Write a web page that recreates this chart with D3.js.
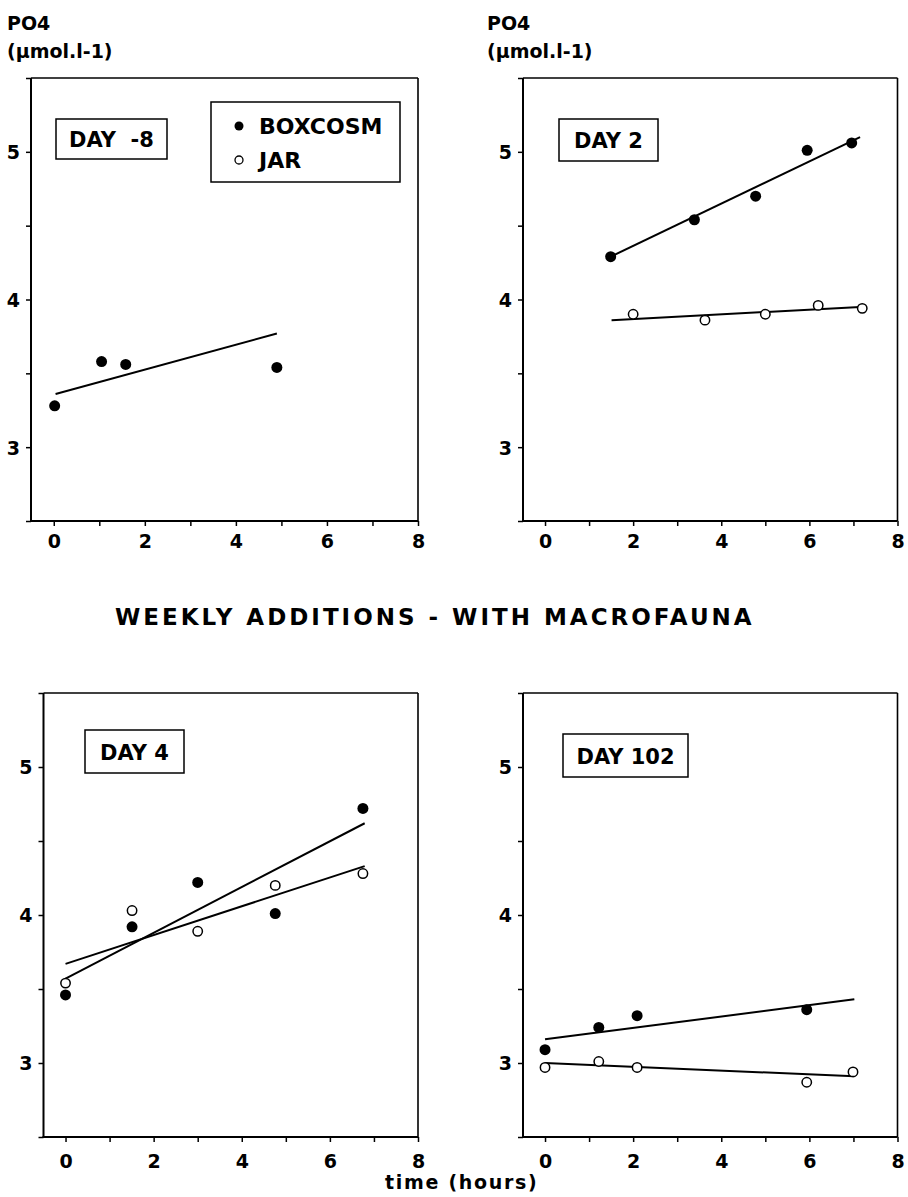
<!DOCTYPE html>
<html>
<head>
<meta charset="utf-8">
<script src="https://cdn.jsdelivr.net/npm/d3@7"></script>
<style>
  html, body { margin: 0; padding: 0; background: #fff; }
  svg text { font-family: "DejaVu Sans", "Liberation Sans", Arial, sans-serif; font-weight: bold; fill: #000; }
</style>
</head>
<body>
<svg id="chart" width="908" height="1197"></svg>
<script>
// Phosphate (PO4, µmol/l) over incubation time (hours), boxcosm vs jar
const dayLabels = ["DAY  -8", "DAY 2", "DAY 4", "DAY 102"];

const boxTime = [[0.02, 1.05, 1.58, 4.90], [1.49, 3.39, 4.78, 5.95, 6.96], [0, 1.51, 3.0, 4.76, 6.75], [0, 1.22, 2.09, 5.94]];
const boxPO4  = [[3.28, 3.58, 3.56, 3.54], [4.29, 4.54, 4.70, 5.01, 5.06], [3.46, 3.92, 4.22, 4.01, 4.72], [3.09, 3.24, 3.32, 3.36]];
const jarTime = [[], [2.0, 3.63, 5.0, 6.2, 7.2], [0, 1.51, 3.0, 4.76, 6.75], [0, 1.22, 2.09, 5.94, 6.99]];
const jarPO4  = [[], [3.90, 3.86, 3.90, 3.96, 3.94], [3.54, 4.03, 3.89, 4.20, 4.28], [2.97, 3.01, 2.97, 2.87, 2.94]];

// fitted lines: [t0, v0, t1, v1]
const boxFit = [[0.04, 3.36, 4.90, 3.77], [1.49, 4.29, 7.15, 5.10], [0, 3.57, 6.79, 4.62], [0, 3.16, 7.02, 3.43]];
const jarFit = [null, [1.51, 3.86, 7.15, 3.95], [0, 3.67, 6.79, 4.33], [0, 3.00, 7.02, 2.91]];

const xTickValues = [0, 1, 2, 3, 4, 5, 6, 7, 8];
const xTickLabels = [0, 2, 4, 6, 8];
const yTickValues = [2.5, 3, 3.5, 4, 4.5, 5, 5.5];
const yTickLabels = [3, 4, 5];

const seriesNames = ["BOXCOSM", "JAR"];
const titleText = "WEEKLY ADDITIONS - WITH MACROFAUNA";
const yLabelLines = ["PO4", "(µmol.l-1)"];
const xLabelText = "time (hours)";

// panel frames in page pixels
const frames = [
  { x0: 31,   x1: 418,   y0: 78,  y1: 521,  lab: 27 },
  { x0: 523,  x1: 897.5, y0: 78,  y1: 521,  lab: 27 },
  { x0: 43.5, x1: 418,   y0: 693, y1: 1137, lab: 31 },
  { x0: 523,  x1: 897.5, y0: 693, y1: 1137, lab: 31 }
];
const dayBoxes = [
  { x: 56,  y: 119, w: 111, h: 40 },
  { x: 559, y: 119, w: 99,  h: 42 },
  { x: 85,  y: 730, w: 99,  h: 43 },
  { x: 563, y: 734, w: 125, h: 43 }
];

const svg = d3.select("#chart");

frames.forEach((f, i) => {
  const g = svg.append("g");
  const x = d3.scaleLinear().domain([-0.5, 8]).range([f.x0, f.x1]);
  const y = d3.scaleLinear().domain([2.5, 5.5]).range([f.y1, f.y0]);

  // axes with ticks
  const xAxis = d3.axisBottom(x).tickValues(xTickValues).tickSize(5).tickSizeOuter(0)
    .tickFormat(d => xTickLabels.includes(d) ? d : "");
  const yAxis = d3.axisLeft(y).tickValues(yTickValues).tickSize(5).tickSizeOuter(0)
    .tickFormat(d => yTickLabels.includes(d) ? d : "");

  const gx = g.append("g").attr("transform", `translate(0,${f.y1})`).call(xAxis);
  const gy = g.append("g").attr("transform", `translate(${f.x0},0)`).call(yAxis);
  [gx, gy].forEach(a => {
    a.attr("font-size", null).attr("font-family", null);
    a.select(".domain").remove();
    a.selectAll(".tick line").attr("stroke", "#000").attr("stroke-width", 1.5);
    a.selectAll(".tick text").style("font-size", "19px").attr("fill", "#000");
  });
  gx.selectAll(".tick text").attr("dy", null).attr("y", f.lab);
  gy.selectAll(".tick text").attr("x", -11).attr("dy", "0.36em");

  // frame: heavier left/bottom, lighter top/right
  g.append("line").attr("x1", f.x0).attr("x2", f.x0).attr("y1", f.y0).attr("y2", f.y1)
    .attr("stroke", "#000").attr("stroke-width", 2);
  g.append("line").attr("x1", f.x0 - 1).attr("x2", f.x1).attr("y1", f.y1).attr("y2", f.y1)
    .attr("stroke", "#000").attr("stroke-width", 2);
  g.append("line").attr("x1", f.x0).attr("x2", f.x1).attr("y1", f.y0).attr("y2", f.y0)
    .attr("stroke", "#000").attr("stroke-width", 1.6);
  g.append("line").attr("x1", f.x1).attr("x2", f.x1).attr("y1", f.y0).attr("y2", f.y1)
    .attr("stroke", "#000").attr("stroke-width", 1.6);

  // day label box
  const b = dayBoxes[i];
  g.append("rect").attr("x", b.x).attr("y", b.y).attr("width", b.w).attr("height", b.h)
    .attr("fill", "#fff").attr("stroke", "#000").attr("stroke-width", 1.5);
  g.append("text").attr("x", b.x + b.w / 2).attr("y", b.y + b.h / 2 + 8)
    .attr("text-anchor", "middle").style("font-size", "21px").style("white-space", "pre")
    .text(dayLabels[i]);

  // fitted lines
  [boxFit[i], jarFit[i]].forEach(l => {
    if (!l) return;
    g.append("line")
      .attr("x1", x(l[0])).attr("y1", y(l[1]))
      .attr("x2", x(l[2])).attr("y2", y(l[3]))
      .attr("stroke", "#000").attr("stroke-width", 2);
  });

  // jar points (open)
  g.selectAll(".jar").data(d3.zip(jarTime[i], jarPO4[i])).join("circle")
    .attr("cx", d => x(d[0])).attr("cy", d => y(d[1])).attr("r", 4.7)
    .attr("fill", "#fff").attr("stroke", "#000").attr("stroke-width", 1.5);
  // boxcosm points (filled)
  g.selectAll(".box").data(d3.zip(boxTime[i], boxPO4[i])).join("circle")
    .attr("cx", d => x(d[0])).attr("cy", d => y(d[1])).attr("r", 5.5)
    .attr("fill", "#000");
});

// legend (first panel)
const lg = svg.append("g");
lg.append("rect").attr("x", 211).attr("y", 102).attr("width", 189).attr("height", 80)
  .attr("fill", "#fff").attr("stroke", "#000").attr("stroke-width", 1.5);
lg.append("circle").attr("cx", 239).attr("cy", 126).attr("r", 4.5).attr("fill", "#000");
lg.append("circle").attr("cx", 239).attr("cy", 160).attr("r", 4).attr("fill", "#fff")
  .attr("stroke", "#000").attr("stroke-width", 1.3);
lg.append("text").attr("x", 259).attr("y", 134).style("font-size", "22px").text(seriesNames[0]);
lg.append("text").attr("x", 259).attr("y", 168).style("font-size", "22px").text(seriesNames[1]);

// y-axis titles above the upper panels
[7, 487].forEach(x0 => {
  svg.append("text").attr("x", x0).attr("y", 30).style("font-size", "19px").text(yLabelLines[0]);
  svg.append("text").attr("x", x0).attr("y", 58).style("font-size", "19px").text(yLabelLines[1]);
});

// central title
svg.append("text").attr("x", 115).attr("y", 625).style("font-size", "23px")
  .style("letter-spacing", "3px").text(titleText);

// shared x-axis title
svg.append("text").attr("x", 385).attr("y", 1189).style("font-size", "19px")
  .style("letter-spacing", "1.7px").text(xLabelText);
</script>
</body>
</html>
